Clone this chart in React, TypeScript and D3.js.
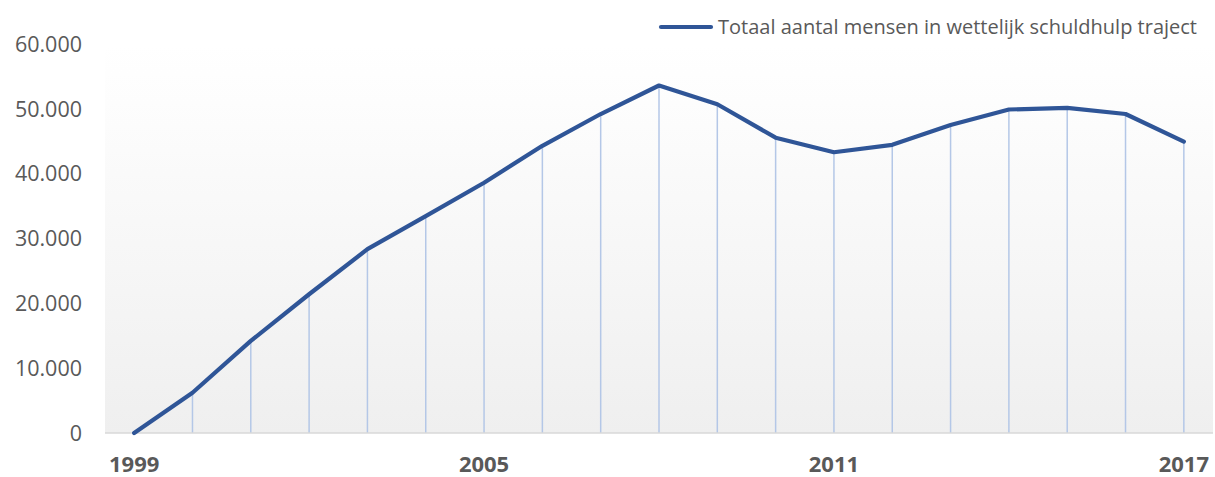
import React from "react";
import * as d3 from "d3";

const years = [1999, 2000, 2001, 2002, 2003, 2004, 2005, 2006, 2007, 2008, 2009, 2010, 2011, 2012, 2013, 2014, 2015, 2016, 2017];
const values = [0, 6200, 14200, 21400, 28350, 33450, 38600, 44300, 49200, 53600, 50700, 45550, 43300, 44450, 47500, 49900, 50150, 49200, 44950];
const yTicks = [0, 10000, 20000, 30000, 40000, 50000, 60000];
const xLabelYears = [1999, 2005, 2011, 2017];
const seriesName = "Totaal aantal mensen in wettelijk schuldhulp traject";

const W = 1215;
const H = 477;
const left = 105;
const right = 1213;
const top = 44;
const bottom = 433;

const fmt = (v: number) => (v === 0 ? "0" : d3.format(",")(v).replace(/,/g, "."));

export default function App() {
  const x = d3.scaleBand<number>().domain(years).range([left, right]).padding(0);
  const cx = (yr: number) => (x(yr) as number) + x.bandwidth() / 2;
  const y = d3.scaleLinear().domain([0, 60000]).range([bottom, top]);
  const pts = years.map((yr, i) => [cx(yr), y(values[i])] as [number, number]);
  const line = d3.line<[number, number]>()(pts) as string;
  const font = "'Open Sans', 'DejaVu Sans', sans-serif";

  return (
    <svg width={W} height={H} style={{ position: "absolute", left: 0, top: 0 }}>
      <defs>
        <linearGradient id="bg" x1="0" y1="0" x2="0" y2="1">
          <stop offset="0" stopColor="#ffffff" />
          <stop offset="0.15" stopColor="#fdfdfd" />
          <stop offset="1" stopColor="#efefef" />
        </linearGradient>
      </defs>
      <rect x={0} y={0} width={W} height={H} fill="#ffffff" />
      <rect x={left} y={top} width={right - left} height={bottom - top} fill="url(#bg)" />
      {years.map((yr, i) => (
        <line
          key={yr}
          x1={cx(yr)}
          x2={cx(yr)}
          y1={y(values[i])}
          y2={bottom}
          stroke="#b4c7e7"
          strokeWidth={1.5}
        />
      ))}
      <line x1={left} x2={right} y1={bottom} y2={bottom} stroke="#d9d9d9" strokeWidth={1.5} />
      <path d={line} fill="none" stroke="#2f5597" strokeWidth={4.2} strokeLinejoin="round" strokeLinecap="round" />
      {yTicks.map((t) => (
        <text
          key={t}
          x={82}
          y={y(t)}
          dy="0.36em"
          textAnchor="end"
          fontFamily={font}
          fontSize={21.5}
          fill="#595959"
        >
          {fmt(t)}
        </text>
      ))}
      {xLabelYears.map((yr) => (
        <text
          key={yr}
          x={cx(yr)}
          y={472}
          textAnchor="middle"
          fontFamily={font}
          fontSize={22}
          fontWeight="bold"
          fill="#595959"
        >
          {yr}
        </text>
      ))}
      <line x1={661} x2={711} y1={27} y2={27} stroke="#2f5597" strokeWidth={4.2} strokeLinecap="round" />
      <text
        x={718}
        y={34}
        fontFamily={font}
        fontSize={20}
        fill="#595959"
        textLength={479}
        lengthAdjust="spacingAndGlyphs"
      >
        {seriesName}
      </text>
    </svg>
  );
}
